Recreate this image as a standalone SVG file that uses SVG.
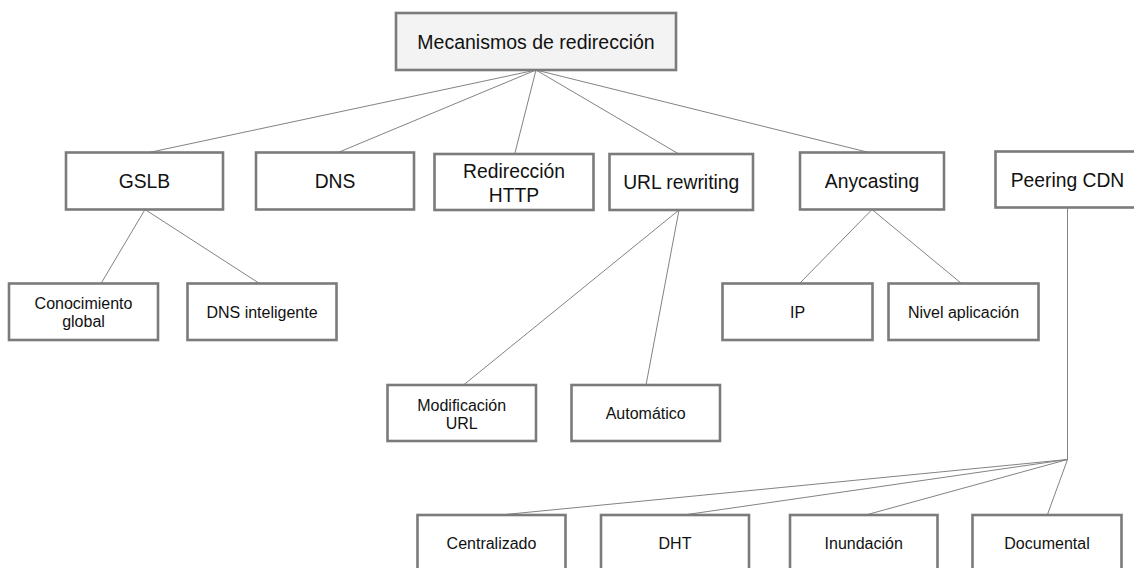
<svg xmlns="http://www.w3.org/2000/svg" width="1134" height="568" viewBox="0 0 1134 568">
  <style>
    .box { fill: #ffffff; stroke: #7b7b7b; stroke-width: 2.6; }
    .root { fill: #f3f3f3; }
    .edge { stroke: #838383; stroke-width: 1; fill: none; }
    text { font-family: "Liberation Sans", Arial, sans-serif; fill: #111111; text-anchor: middle; }
    .t0 { font-size: 19.5px; }
    .t1 { font-size: 19.3px; }
    .t2 { font-size: 16px; }
  </style>
  <rect width="1134" height="568" fill="#ffffff"/>

  <!-- connectors -->
  <g id="connectors">
    <line class="edge" x1="536" y1="70" x2="149" y2="152.5"/>
    <line class="edge" x1="536" y1="70" x2="338" y2="152.5"/>
    <line class="edge" x1="536" y1="70" x2="514.7" y2="154"/>
    <line class="edge" x1="536" y1="70" x2="678.8" y2="154"/>
    <line class="edge" x1="536" y1="70" x2="869" y2="152.5"/>

    <line class="edge" x1="145" y1="209.5" x2="101" y2="283.5"/>
    <line class="edge" x1="145" y1="209.5" x2="259.5" y2="283.5"/>

    <line class="edge" x1="679" y1="210" x2="463.5" y2="385"/>
    <line class="edge" x1="679" y1="210" x2="646" y2="385"/>

    <line class="edge" x1="872" y1="209.5" x2="799.5" y2="283.5"/>
    <line class="edge" x1="872" y1="209.5" x2="961.5" y2="283.5"/>

    <line class="edge" x1="1067.5" y1="207.5" x2="1067.5" y2="459.5"/>
    <line class="edge" x1="1067.5" y1="459.5" x2="500" y2="515"/>
    <line class="edge" x1="1067.5" y1="459.5" x2="683.5" y2="515"/>
    <line class="edge" x1="1067.5" y1="459.5" x2="865.7" y2="515"/>
    <line class="edge" x1="1067.5" y1="459.5" x2="1047.3" y2="515"/>
  </g>

  <!-- top level -->
  <g id="mecanismos">
    <rect class="box root" x="396" y="13" width="280" height="57"/>
    <text class="t0" x="536" y="48.5">Mecanismos de redirección</text>
  </g>

  <!-- first level -->
  <g id="gslb">
    <rect class="box" x="66" y="152.5" width="157" height="57"/>
    <text class="t1" x="144.5" y="188">GSLB</text>
  </g>
  <g id="dns">
    <rect class="box" x="256" y="152.5" width="158" height="57"/>
    <text class="t1" x="335" y="188">DNS</text>
  </g>
  <g id="redireccion-http">
    <rect class="box" x="434.5" y="154" width="159" height="56"/>
    <text class="t1" x="514" y="178.3">Redirección</text>
    <text class="t1" x="514" y="201.7">HTTP</text>
  </g>
  <g id="url-rewriting">
    <rect class="box" x="609.5" y="154" width="143.5" height="56"/>
    <text class="t1" x="681.2" y="189">URL rewriting</text>
  </g>
  <g id="anycasting">
    <rect class="box" x="800" y="152.5" width="144" height="57"/>
    <text class="t1" x="872" y="188">Anycasting</text>
  </g>
  <g id="peering-cdn">
    <rect class="box" x="995.5" y="151.5" width="144" height="56"/>
    <text class="t1" x="1067.5" y="186.5">Peering CDN</text>
  </g>

  <!-- second level -->
  <g id="conocimiento-global">
    <rect class="box" x="9" y="283.5" width="149" height="56.5"/>
    <text class="t2" x="83.5" y="308.8">Conocimiento</text>
    <text class="t2" x="83.5" y="327">global</text>
  </g>
  <g id="dns-inteligente">
    <rect class="box" x="187.5" y="283.5" width="149" height="56.5"/>
    <text class="t2" x="262" y="318">DNS inteligente</text>
  </g>
  <g id="modificacion-url">
    <rect class="box" x="387.5" y="385" width="148.5" height="56"/>
    <text class="t2" x="461.7" y="410.5">Modificación</text>
    <text class="t2" x="461.7" y="429.3">URL</text>
  </g>
  <g id="automatico">
    <rect class="box" x="571.5" y="385" width="148.5" height="56"/>
    <text class="t2" x="645.7" y="419.3">Automático</text>
  </g>
  <g id="ip">
    <rect class="box" x="722.5" y="283.5" width="150" height="56.5"/>
    <text class="t2" x="797.5" y="318">IP</text>
  </g>
  <g id="nivel-aplicacion">
    <rect class="box" x="888.5" y="283.5" width="150" height="56.5"/>
    <text class="t2" x="963.5" y="318">Nivel aplicación</text>
  </g>

  <!-- peering variants -->
  <g id="centralizado">
    <rect class="box" x="417.5" y="515" width="148" height="57"/>
    <text class="t2" x="491.5" y="549.3">Centralizado</text>
  </g>
  <g id="dht">
    <rect class="box" x="601" y="515" width="148" height="57"/>
    <text class="t2" x="675" y="549.3">DHT</text>
  </g>
  <g id="inundacion">
    <rect class="box" x="790" y="515" width="147.5" height="57"/>
    <text class="t2" x="863.7" y="549.3">Inundación</text>
  </g>
  <g id="documental">
    <rect class="box" x="972.5" y="515" width="149" height="57"/>
    <text class="t2" x="1047" y="549.3">Documental</text>
  </g>
</svg>
